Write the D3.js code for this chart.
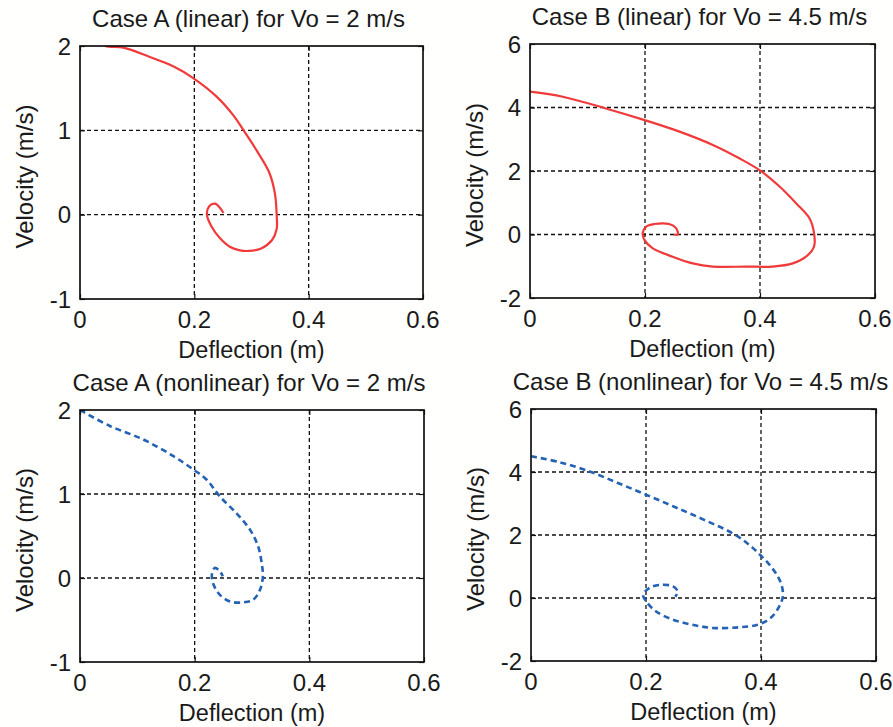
<!DOCTYPE html>
<html>
<head>
<meta charset="utf-8">
<script src="https://cdn.jsdelivr.net/npm/d3@7"></script>
<style>
  html, body { margin: 0; padding: 0; background: #fffffd; }
  svg { display: block; }
  text { font-family: "Liberation Sans", Arial, sans-serif; fill: #1a1a1a; }
</style>
</head>
<body>
<svg id="chart" width="893" height="727"></svg>
<script>
// Phase-plane trajectories: deflection (m) vs velocity (m/s)

// Shared tick values
const xTicks = [0, 0.2, 0.4, 0.6];
const yTicksA = [-1, 0, 1, 2];
const yTicksB = [-2, 0, 2, 4, 6];

// Case A, linear model, Vo = 2 m/s (first arc rises above the axes limit and is clipped)
const caseALinX = [0, 0.022, 0.044, 0.076, 0.122, 0.163, 0.198, 0.239, 0.268, 0.289, 0.310, 0.331, 0.341, 0.344, 0.344, 0.336, 0.317, 0.295, 0.278, 0.262, 0.245, 0.230, 0.222, 0.226, 0.236, 0.245, 0.251];
const caseALinV = [2.0, 2.1, 2.0, 1.98, 1.87, 1.76, 1.62, 1.40, 1.18, 0.97, 0.75, 0.50, 0.25, 0.0, -0.17, -0.30, -0.40, -0.43, -0.42, -0.38, -0.28, -0.14, 0.0, 0.10, 0.13, 0.08, 0.02];

// Case B, linear model, Vo = 4.5 m/s
const caseBLinX = [0, 0.057, 0.132, 0.198, 0.260, 0.318, 0.364, 0.399, 0.434, 0.463, 0.486, 0.494, 0.494, 0.480, 0.457, 0.422, 0.376, 0.318, 0.283, 0.248, 0.213, 0.199, 0.196, 0.202, 0.216, 0.242, 0.254, 0.257, 0.250];
const caseBLinV = [4.50, 4.34, 3.97, 3.61, 3.24, 2.82, 2.40, 2.03, 1.51, 0.98, 0.51, 0.04, -0.38, -0.70, -0.91, -1.01, -1.01, -1.01, -0.91, -0.70, -0.43, -0.17, 0.04, 0.25, 0.33, 0.33, 0.20, 0.0, 0.0];

// Case A, nonlinear model, Vo = 2 m/s
const caseANonX = [0, 0.052, 0.110, 0.163, 0.198, 0.221, 0.244, 0.273, 0.297, 0.311, 0.317, 0.319, 0.314, 0.302, 0.285, 0.262, 0.244, 0.233, 0.230, 0.235, 0.244, 0.249];
const caseANonV = [2.0, 1.81, 1.65, 1.45, 1.29, 1.17, 0.97, 0.77, 0.57, 0.37, 0.17, 0.02, -0.14, -0.26, -0.29, -0.28, -0.20, -0.08, 0.04, 0.12, 0.08, 0.02];

// Case B, nonlinear model, Vo = 4.5 m/s
const caseBNonX = [0, 0.05, 0.10, 0.15, 0.20, 0.25, 0.30, 0.35, 0.38, 0.40, 0.415, 0.428, 0.436, 0.438, 0.432, 0.417, 0.394, 0.362, 0.316, 0.281, 0.247, 0.217, 0.200, 0.195, 0.206, 0.226, 0.247, 0.255, 0.251];
const caseBNonV = [4.50, 4.31, 4.03, 3.66, 3.28, 2.89, 2.49, 2.06, 1.68, 1.34, 1.05, 0.72, 0.40, 0.05, -0.26, -0.63, -0.85, -0.93, -0.95, -0.85, -0.69, -0.42, -0.10, 0.10, 0.32, 0.42, 0.37, 0.21, 0.04];

const svg = d3.select("#chart");
const FONT = 24;

const panels = [
  { title: "Case A (linear) for Vo = 2 m/s", box: [80, 423, 46, 299], yDomain: [-1, 2], yTicks: yTicksA,
    xs: caseALinX, vs: caseALinV, color: "#f03a3a", width: 2.2, dash: null },
  { title: "Case B (linear) for Vo = 4.5 m/s", box: [530, 875, 44, 298], yDomain: [-2, 6], yTicks: yTicksB,
    xs: caseBLinX, vs: caseBLinV, color: "#f03a3a", width: 2.2, dash: null },
  { title: "Case A (nonlinear) for Vo = 2 m/s", box: [80, 424, 410, 662], yDomain: [-1, 2], yTicks: yTicksA,
    xs: caseANonX, vs: caseANonV, color: "#2462b4", width: 2.6, dash: "6,4" },
  { title: "Case B (nonlinear) for Vo = 4.5 m/s", box: [531, 876, 409, 661], yDomain: [-2, 6], yTicks: yTicksB,
    xs: caseBNonX, vs: caseBNonV, color: "#2462b4", width: 2.6, dash: "6,4" }
];

panels.forEach((p, i) => {
  const [left, right, top, bottom] = p.box;
  const x = d3.scaleLinear().domain([0, 0.6]).range([left, right]);
  const y = d3.scaleLinear().domain(p.yDomain).range([bottom, top]);
  const g = svg.append("g");

  g.append("rect")
    .attr("x", left).attr("y", top)
    .attr("width", right - left).attr("height", bottom - top)
    .attr("fill", "#ffffff");

  // dashed grid at the interior ticks
  g.append("g").selectAll("line")
    .data(xTicks.filter(t => t > 0 && t < 0.6))
    .join("line")
    .attr("x1", d => x(d)).attr("x2", d => x(d))
    .attr("y1", top).attr("y2", bottom)
    .attr("stroke", "#111").attr("stroke-width", 1.3)
    .attr("stroke-dasharray", "4,3");
  g.append("g").selectAll("line")
    .data(p.yTicks.filter(t => t > p.yDomain[0] && t < p.yDomain[1]))
    .join("line")
    .attr("x1", left).attr("x2", right)
    .attr("y1", d => y(d)).attr("y2", d => y(d))
    .attr("stroke", "#111").attr("stroke-width", 1.3)
    .attr("stroke-dasharray", "4,3");

  // trajectory, clipped to the axes box
  const clipId = "clip" + i;
  svg.append("clipPath").attr("id", clipId)
    .append("rect")
    .attr("x", left).attr("y", top)
    .attr("width", right - left).attr("height", bottom - top);

  const pts = p.xs.map((d, k) => [d, p.vs[k]]);
  const line = d3.line()
    .x(d => x(d[0])).y(d => y(d[1]))
    .curve(d3.curveCatmullRom.alpha(0.5));
  g.append("path")
    .attr("d", line(pts))
    .attr("clip-path", `url(#${clipId})`)
    .attr("fill", "none")
    .attr("stroke", p.color)
    .attr("stroke-width", p.width)
    .attr("stroke-linejoin", "round")
    .attr("stroke-dasharray", p.dash);

  // axes box
  g.append("rect")
    .attr("x", left).attr("y", top)
    .attr("width", right - left).attr("height", bottom - top)
    .attr("fill", "none").attr("stroke", "#111").attr("stroke-width", 1.7);

  // inward tick marks on all four sides
  const xAxisB = d3.axisBottom(x).tickValues(xTicks).tickSizeInner(-5).tickSizeOuter(0).tickFormat("");
  const xAxisT = d3.axisTop(x).tickValues(xTicks).tickSizeInner(-5).tickSizeOuter(0).tickFormat("");
  const yAxisL = d3.axisLeft(y).tickValues(p.yTicks).tickSizeInner(-5).tickSizeOuter(0).tickFormat("");
  const yAxisR = d3.axisRight(y).tickValues(p.yTicks).tickSizeInner(-5).tickSizeOuter(0).tickFormat("");
  [[xAxisB, `translate(0,${bottom})`], [xAxisT, `translate(0,${top})`],
   [yAxisL, `translate(${left},0)`], [yAxisR, `translate(${right},0)`]].forEach(([ax, tr]) => {
    const a = g.append("g").attr("transform", tr).call(ax);
    a.select(".domain").remove();
    a.selectAll("line").attr("stroke", "#111").attr("stroke-width", 1.2);
  });

  // tick labels
  g.append("g").selectAll("text")
    .data(xTicks).join("text")
    .attr("x", d => x(d)).attr("y", bottom + 29)
    .attr("text-anchor", "middle")
    .attr("font-size", FONT)
    .text(d => d3.format("~g")(d));
  g.append("g").selectAll("text")
    .data(p.yTicks).join("text")
    .attr("x", left - 9).attr("y", d => y(d))
    .attr("dy", "0.36em")
    .attr("text-anchor", "end")
    .attr("font-size", FONT)
    .text(d => d < 0 ? "-" + Math.abs(d) : String(d));

  // title and axis labels
  g.append("text")
    .attr("x", (left + right) / 2 - 3).attr("y", top - 19)
    .attr("text-anchor", "middle").attr("font-size", FONT)
    .text(p.title);
  g.append("text")
    .attr("x", (left + right) / 2).attr("y", bottom + 59)
    .attr("text-anchor", "middle").attr("font-size", FONT - 0.5)
    .text("Deflection (m)");
  g.append("text")
    .attr("transform", `translate(${left - 47},${(top + bottom) / 2 + 4}) rotate(-90)`)
    .attr("text-anchor", "middle").attr("font-size", FONT)
    .text("Velocity (m/s)");
});
</script>
</body>
</html>
